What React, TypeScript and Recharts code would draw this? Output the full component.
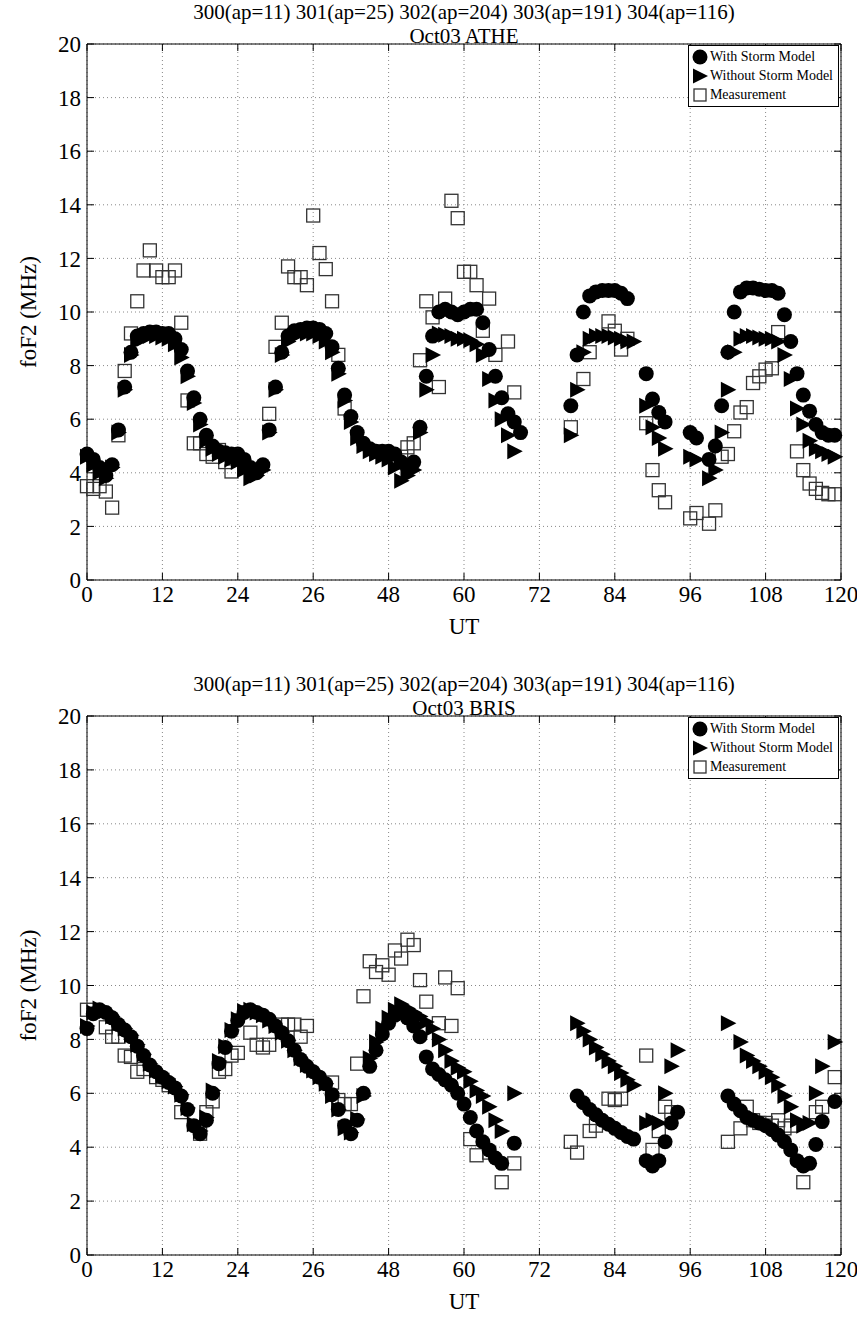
import React from 'react';
import { ScatterChart, Scatter, XAxis, YAxis, CartesianGrid, Legend, ReferenceLine } from 'recharts';

const FONT = '"Liberation Serif", "Times New Roman", serif';

// axis ticks (the original figure labels the 36 h tick as "26")
const xTicks = [0, 12, 24, 36, 48, 60, 72, 84, 96, 108, 120];
const xTickLabels = ['0', '12', '24', '26', '48', '60', '72', '84', '96', '108', '120'];
const yTicks = [0, 2, 4, 6, 8, 10, 12, 14, 16, 18, 20];

const titleLine1 = '300(ap=11) 301(ap=25) 302(ap=204) 303(ap=191) 304(ap=116)';
const stations = ['Oct03 ATHE', 'Oct03 BRIS'];
const seriesNames = ['With Storm Model', 'Without Storm Model', 'Measurement'];

// hourly model values, index = UT hour (0..119), null = no point
const atheWithStorm = [
  4.7, 4.5, 4.2, 3.9, 4.3, 5.6, 7.2, 8.5, 9.1, 9.2, 9.25, 9.25, 9.2, 9.2, 9.0, 8.6, 7.8, 6.8, 6.0, 5.4, 5.0, 4.8, 4.75, 4.7,
  4.7, 4.5, 4.2, 4.0, 4.3, 5.6, 7.2, 8.5, 9.1, 9.3, 9.35, 9.4, 9.4, 9.35, 9.2, 8.7, 7.9, 6.9, 6.1, 5.5, 5.1, 4.9, 4.8, 4.8,
  4.8, 4.7, 4.4, 4.2, 4.4, 5.7, 7.6, 9.1, 10.0, 10.1, 10.0, 9.9, 10.0, 10.1, 10.1, 9.6, 8.6, 7.6, 6.8, 6.2, 5.9, 5.5, null, null,
  null, null, null, null, null, 6.5, 8.4, 10.0, 10.6, 10.75, 10.8, 10.8, 10.8, 10.7, 10.5, null, null, 7.7, 6.75, 6.25, 5.9, null, null, null,
  5.5, 5.3, null, 4.5, 5.0, 6.5, 8.5, 10.0, 10.75, 10.9, 10.9, 10.85, 10.8, 10.8, 10.7, 9.9, 8.9, 7.7, 6.9, 6.3, 5.8, 5.5, 5.4, 5.4,
];
const atheWithoutStorm = [
  4.6, 4.3, 4.0, 3.8, 4.2, 5.5, 7.1, 8.4, 8.9, 9.0, 9.1, 9.1, 9.05, 9.0, 8.8, 8.3, 7.6, 6.6, 5.8, 5.2, 4.9, 4.7, 4.6, 4.5,
  4.4, 4.1, 3.8, 3.9, 4.1, 5.5, 7.1, 8.4, 8.9, 9.1, 9.2, 9.2, 9.2, 9.1, 8.9, 8.5, 7.7, 6.7, 5.9, 5.3, 5.0, 4.8, 4.7, 4.6,
  4.5, 4.2, 3.7, 3.9, 4.1, 5.5, 7.1, 8.4, 9.2, 9.15, 9.1, 9.0, 9.0, 8.95, 8.8, 8.4, 7.5, 6.7, 6.0, 5.4, 4.8, null, null, null,
  null, null, null, null, null, 5.4, 7.1, 8.5, 9.0, 9.1, 9.1, 9.1, 9.05, 9.0, 8.9, 8.9, null, 6.5, 5.7, 5.3, 4.9, null, null, null,
  4.6, 4.5, null, 3.8, 4.1, 5.5, 7.1, 8.5, 9.0, 9.1, 9.1, 9.05, 9.0, 9.0, 8.9, 8.4, 7.5, 6.4, 5.8, 5.2, 4.9, 4.8, 4.7, 4.6,
];
const atheMeasHours = [
  0, 1, 2, 3, 4, 5, 6, 7, 8, 9, 10, 11, 12, 13, 14, 15, 16, 17, 18, 19, 20, 21, 22, 23,
  29, 30, 31, 32, 33, 34, 35, 36, 37, 38, 39, 40, 41, 50, 51, 52,
  53, 54, 55, 56, 57, 58, 59, 60, 61, 62, 63, 64, 65, 67, 68,
  77, 79, 80, 83, 84, 85, 86, 89, 90, 91, 92, 96, 97, 99, 100, 101, 102, 103, 104, 105, 106, 107, 108, 109, 110,
  113, 114, 115, 116, 117, 118, 119,
];
const atheMeasValues = [
  3.5, 3.4, 3.5, 3.3, 2.7, 5.4, 7.8, 9.2, 10.4, 11.55, 12.3, 11.55, 11.3, 11.3, 11.55, 9.6, 6.7, 5.1, 5.1, 4.7, 4.6, 4.85, 4.4, 4.05,
  6.2, 8.7, 9.6, 11.7, 11.3, 11.3, 11.0, 13.6, 12.2, 11.6, 10.4, 8.4, 6.4, 4.6, 4.95, 5.1,
  8.2, 10.4, 9.8, 7.2, 10.5, 14.15, 13.5, 11.5, 11.5, 11.0, 9.3, 10.5, 8.4, 8.9, 7.0,
  5.7, 7.5, 8.5, 9.65, 9.3, 8.6, 9.0, 5.85, 4.1, 3.35, 2.9, 2.3, 2.5, 2.1, 2.6, 4.6, 4.7, 5.55, 6.25, 6.45, 7.35, 7.6, 7.85, 7.9, 9.25,
  4.8, 4.1, 3.6, 3.4, 3.25, 3.2, 3.2,
];

const brisWithStorm = [
  8.4, 8.95, 9.1, 9.0, 8.8, 8.55, 8.35, 8.1, 7.75, 7.4, 7.05, 6.8, 6.6, 6.4, 6.2, 5.9, 5.4, 4.8, 4.5, 5.0, 6.0, 7.1, 7.7, 8.3,
  8.7, 9.0, 9.1, 9.0, 8.9, 8.75, 8.5, 8.25, 7.95, 7.6, 7.25, 7.0, 6.8, 6.6, 6.35, 5.95, 5.4, 4.8, 4.5, 5.0, 6.0, 7.0, 7.6, 8.2,
  8.6, 8.9, 9.0, 8.8, 8.5, 8.1, 7.35, 6.9, 6.7, 6.5, 6.3, 6.0, 5.6, 5.1, 4.6, 4.2, 3.9, 3.6, 3.4, null, 4.15, null, null, null,
  null, null, null, null, null, null, 5.9, 5.65, 5.4, 5.2, 5.0, 4.85, 4.7, 4.55, 4.4, 4.3, null, 3.5, 3.3, 3.5, 4.2, 4.9, 5.3, null,
  null, null, null, null, null, null, 5.9, 5.6, 5.35, 5.1, 5.0, 4.9, 4.8, 4.65, 4.45, 4.2, 3.9, 3.5, 3.3, 3.4, 4.1, 4.95, null, 5.7,
];
const brisWithoutStorm = [
  8.5, 9.0, 9.15, 9.05, 8.85, 8.6, 8.4, 8.15, 7.8, 7.45, 7.1, 6.85, 6.65, 6.45, 6.25, 5.95, 5.45, 4.85, 4.6, 5.1, 6.1, 7.2, 7.75, 8.35,
  8.75, 9.05, 9.1, 9.0, 8.9, 8.7, 8.5, 8.25, 7.95, 7.6, 7.3, 7.05, 6.85, 6.6, 6.35, 5.9, 5.4, 4.7, 4.55, 5.05, 5.9, 7.3, 7.9, 8.4,
  8.8, 9.1, 9.3, 9.15, 9.0, 8.85, 8.65, 8.4, 8.0, 7.6, 7.2, 6.95, 6.8, 6.45, 6.1, 5.9, 5.5, 5.0, 4.6, null, 6.0, null, null, null,
  null, null, null, null, null, null, 8.6, 8.3, 8.0, 7.7, 7.45, 7.2, 7.0, 6.75, 6.5, 6.3, null, 4.9, 5.0, 4.9, 6.0, 7.0, 7.6, null,
  null, null, null, null, null, null, 8.6, null, 7.9, 7.4, 7.2, 7.0, 6.8, 6.6, 6.3, 5.9, 5.5, 5.0, 4.8, 4.9, 6.0, 7.0, null, 7.9,
];
const brisMeasHours = [
  0, 3, 4, 5, 6, 7, 8, 9, 11, 12, 13, 15, 18, 19, 20, 21, 22, 23, 24, 26, 27, 28, 29, 31, 32, 33, 34, 35, 39, 40, 41, 42,
  43, 44, 45, 46, 47, 48, 49, 50, 51, 52, 53, 54, 56, 57, 58, 59, 61, 62, 64, 66, 68,
  77, 78, 80, 81, 83, 84, 85, 89, 90, 91, 92, 93,
  102, 104, 105, 106, 107, 108, 109, 110, 111, 112, 114, 116, 117, 119,
];
const brisMeasValues = [
  9.1, 8.45, 8.1, 8.1, 7.4, 7.35, 6.8, 6.9, 6.6, 6.5, 6.3, 5.3, 4.5, 5.3, 5.7, 6.8, 6.9, 7.4, 7.5, 8.25, 7.8, 7.7, 7.8, 8.55, 8.55, 8.55, 8.1, 8.5, 6.4, 5.75, 5.6, 5.6,
  7.1, 9.6, 10.9, 10.5, 10.75, 10.4, 11.3, 11.0, 11.7, 11.5, 10.2, 9.4, 8.6, 10.3, 8.5, 9.9, 4.3, 3.7, 3.8, 2.7, 3.4,
  4.2, 3.8, 4.6, 4.8, 5.8, 5.75, 5.8, 7.4, 3.9, 4.6, 5.5, 5.3,
  4.2, 4.7, 5.5, 5.0, 4.9, 4.9, 4.8, 5.0, 4.7, 4.8, 2.7, 5.3, 5.5, 6.6,
];

type Pt = { x: number; y: number };

const hourly = (vals: (number | null)[]): Pt[] =>
  vals.flatMap((v, i) => (v == null ? [] : [{ x: i, y: v }]));
const paired = (hours: number[], vals: number[]): Pt[] => hours.map((h, i) => ({ x: h, y: vals[i] }));

const Dot = ({ cx, cy }: any) => <circle cx={cx} cy={cy} r={7.5} fill="#000" />;
const Tri = ({ cx, cy }: any) => (
  <polygon points={`${cx - 7},${cy - 8} ${cx + 8.5},${cy} ${cx - 7},${cy + 8}`} fill="#000" />
);
const Sq = ({ cx, cy }: any) => (
  <rect x={cx - 6.5} y={cy - 6.5} width={13} height={13} fill="none" stroke="#333" strokeWidth={1.3} />
);

const W = 857;
const PLOT_LEFT = 87;
const PLOT_RIGHT = 841;
const TICK_LEN = 7;
const FS = 23;
const TITLE_FS = 21;
const TITLE_LH = 23.5;

const LegendBox = () => (
  <div
    style={{
      border: '1px solid #000',
      background: '#fff',
      fontFamily: FONT,
      fontSize: 14,
      lineHeight: '19px',
      padding: '1px 5px 2px 3px',
      color: '#000',
      whiteSpace: 'nowrap',
    }}
  >
    {seriesNames.map((name, i) => (
      <div key={name} style={{ display: 'flex', alignItems: 'center', height: 19 }}>
        <svg width={16} height={16} style={{ marginRight: 2 }}>
          {i === 0 && <circle cx={8} cy={8} r={7.5} fill="#000" />}
          {i === 1 && <polygon points="1,0.5 16,8 1,15.5" fill="#000" />}
          {i === 2 && <rect x={2} y={2} width={12} height={12} fill="none" stroke="#333" strokeWidth={1.3} />}
        </svg>
        <span>{name}</span>
      </div>
    ))}
  </div>
);

type PanelProps = {
  station: string;
  withStorm: Pt[];
  withoutStorm: Pt[];
  meas: Pt[];
  top: number;
  height: number;
  marginTop: number;
  marginBottom: number;
};

function Panel({ station, withStorm, withoutStorm, meas, top, height, marginTop, marginBottom }: PanelProps) {
  const plotTop = marginTop;
  const tickMargin = 6;

  // bottom labels + inward ticks on bottom and top edges
  const XTick = ({ x, y, payload }: any) => {
    const axisY = y - tickMargin;
    return (
      <g>
        <line x1={x} y1={axisY} x2={x} y2={axisY - TICK_LEN} stroke="#000" />
        <line x1={x} y1={plotTop} x2={x} y2={plotTop + TICK_LEN} stroke="#000" />
        <text x={x} y={y} dy="0.71em" textAnchor="middle" fontFamily={FONT} fontSize={FS} fill="#000">
          {xTickLabels[xTicks.indexOf(payload.value)]}
        </text>
      </g>
    );
  };

  // left labels + inward ticks on left and right edges
  const YTick = ({ x, y, payload }: any) => {
    const axisX = x + tickMargin;
    return (
      <g>
        <line x1={axisX} y1={y} x2={axisX + TICK_LEN} y2={y} stroke="#000" />
        <line x1={PLOT_RIGHT - TICK_LEN} y1={y} x2={PLOT_RIGHT} y2={y} stroke="#000" />
        <text x={x} y={y} dy="0.355em" textAnchor="end" fontFamily={FONT} fontSize={FS} fill="#000">
          {payload.value}
        </text>
      </g>
    );
  };

  return (
    <div style={{ position: 'absolute', left: 0, top, width: W, height }}>
      <div
        style={{
          position: 'absolute',
          left: PLOT_LEFT - 40,
          width: PLOT_RIGHT - PLOT_LEFT + 80,
          top: marginTop - 2 * TITLE_LH + 4,
          textAlign: 'center',
          fontFamily: FONT,
          fontSize: TITLE_FS,
          lineHeight: `${TITLE_LH}px`,
          color: '#000',
        }}
      >
        <div style={{ height: TITLE_LH }}>{titleLine1}</div>
        <div style={{ height: TITLE_LH }}>{station}</div>
      </div>
      <ScatterChart
        width={W}
        height={height}
        style={{ overflow: 'visible' }}
        margin={{ top: marginTop, right: W - PLOT_RIGHT, bottom: marginBottom - 30, left: 0 }}
      >
        <CartesianGrid stroke="#888" strokeDasharray="1 3" horizontalValues={yTicks} verticalValues={xTicks} />
        <XAxis
          type="number"
          dataKey="x"
          domain={[0, 120]}
          ticks={xTicks}
          interval={0}
          height={30}
          tickLine={false}
          tickSize={0}
          tickMargin={tickMargin}
          axisLine={{ stroke: '#000' }}
          tick={<XTick />}
          label={{ value: 'UT', position: 'bottom', offset: 8, style: { fontFamily: FONT, fontSize: FS, fill: '#000' } }}
        />
        <YAxis
          type="number"
          dataKey="y"
          domain={[0, 20]}
          ticks={yTicks}
          interval={0}
          width={PLOT_LEFT}
          tickLine={false}
          tickSize={0}
          tickMargin={tickMargin}
          axisLine={{ stroke: '#000' }}
          tick={<YTick />}
          label={{
            value: 'foF2 (MHz)',
            angle: -90,
            position: 'insideLeft',
            offset: 28,
            style: { fontFamily: FONT, fontSize: FS, fill: '#000', textAnchor: 'middle' },
          }}
        />
        <ReferenceLine y={20} stroke="#000" strokeWidth={1} />
        <ReferenceLine x={120} stroke="#000" strokeWidth={1} />
        <Legend
          layout="horizontal"
          align="center"
          verticalAlign="middle"
          content={() => <LegendBox />}
          wrapperStyle={{ position: 'absolute', left: 'auto', right: W - PLOT_RIGHT + 2, top: marginTop + 1, width: 'auto' }}
        />
        <Scatter name={seriesNames[2]} data={meas} shape={Sq} isAnimationActive={false} />
        <Scatter name={seriesNames[0]} data={withStorm} shape={Dot} isAnimationActive={false} />
        <Scatter name={seriesNames[1]} data={withoutStorm} shape={Tri} isAnimationActive={false} />
      </ScatterChart>
    </div>
  );
}

export default function App() {
  return (
    <div style={{ position: 'absolute', left: 0, top: 0, width: W, height: 1325, background: '#fff' }}>
      <Panel
        station={stations[0]}
        withStorm={hourly(atheWithStorm)}
        withoutStorm={hourly(atheWithoutStorm)}
        meas={paired(atheMeasHours, atheMeasValues)}
        top={0}
        height={662}
        marginTop={44}
        marginBottom={82}
      />
      <Panel
        station={stations[1]}
        withStorm={hourly(brisWithStorm)}
        withoutStorm={hourly(brisWithoutStorm)}
        meas={paired(brisMeasHours, brisMeasValues)}
        top={662}
        height={663}
        marginTop={54}
        marginBottom={70}
      />
    </div>
  );
}
